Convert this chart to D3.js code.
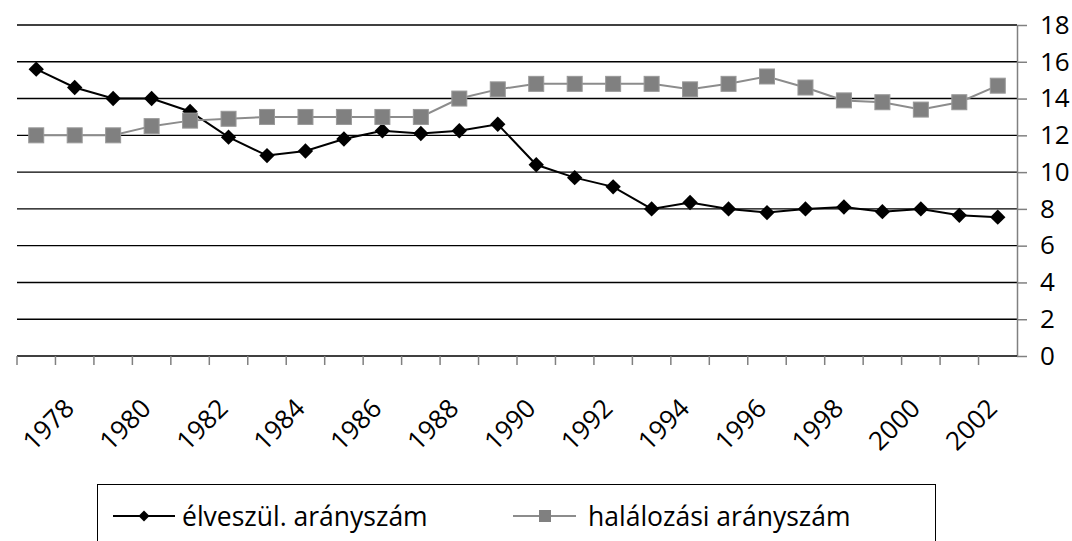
<!DOCTYPE html>
<html>
<head>
<meta charset="utf-8">
<script src="https://cdn.jsdelivr.net/npm/d3@7"></script>
<style>
  body { margin: 0; background: #fff; }
  text { font-family: "Open Sans", sans-serif; fill: #000; }
</style>
</head>
<body>
<div id="chart"></div>
<script>
// data
var years = ["1977","1978","1979","1980","1981","1982","1983","1984","1985","1986","1987","1988","1989",
             "1990","1991","1992","1993","1994","1995","1996","1997","1998","1999","2000","2001","2002"];
var elveszul = [15.6,14.6,14.0,14.0,13.3,11.9,10.9,11.15,11.8,12.25,12.1,12.25,12.6,
                10.4,9.7,9.2,8.0,8.35,8.0,7.8,8.0,8.1,7.85,8.0,7.65,7.55];
var halalozasi = [12.0,12.0,12.0,12.5,12.8,12.9,13.0,13.0,13.0,13.0,13.0,14.0,14.5,
                  14.8,14.8,14.8,14.8,14.5,14.8,15.2,14.6,13.9,13.8,13.4,13.8,14.7];
var yTicks = [0,2,4,6,8,10,12,14,16,18];
var seriesNames = ["élveszül. arányszám", "halálozási arányszám"];

var width = 1072, height = 541;
var plot = {left: 17, right: 1017, top: 25, bottom: 356};

var svg = d3.select("#chart").append("svg")
  .attr("width", width)
  .attr("height", height);

var x = d3.scaleBand()
  .domain(years)
  .range([plot.left, plot.right])
  .padding(0);

var y = d3.scaleLinear()
  .domain([0, 18])
  .range([plot.bottom, plot.top]);

// horizontal gridlines
svg.selectAll(".grid")
  .data(yTicks.filter(function(d) { return d > 0; }))
  .enter().append("line")
    .attr("x1", plot.left)
    .attr("x2", plot.right)
    .attr("y1", function(d) { return y(d); })
    .attr("y2", function(d) { return y(d); })
    .style("stroke", "#000")
    .style("stroke-width", 1.4);

// right value axis
var yAxis = svg.append("g")
  .attr("transform", "translate(" + plot.right + ",0)")
  .call(d3.axisRight(y).tickValues(yTicks).tickSize(10).tickSizeOuter(0).tickPadding(13));
yAxis.select(".domain").style("stroke", "#808080").style("stroke-width", 1.5);
yAxis.selectAll(".tick line").style("stroke", "#808080").style("stroke-width", 1.5);
yAxis.selectAll(".tick text")
  .style("font-family", "'Open Sans', sans-serif")
  .style("font-size", "26px")
  .attr("fill", "#000");

// category axis line + ticks between categories
svg.append("line")
  .attr("x1", plot.left).attr("x2", plot.right)
  .attr("y1", y(0)).attr("y2", y(0))
  .style("stroke", "#000").style("stroke-width", 1.4);

svg.selectAll(".xtick")
  .data(years)
  .enter().append("line")
    .attr("x1", function(d) { return x(d); })
    .attr("x2", function(d) { return x(d); })
    .attr("y1", y(0))
    .attr("y2", y(0) + 9)
    .style("stroke", "#808080")
    .style("stroke-width", 1.5);

// rotated year labels (every other year)
svg.selectAll(".xlabel")
  .data(years.filter(function(d, i) { return i % 2 === 1; }))
  .enter().append("text")
    .attr("text-anchor", "end")
    .attr("transform", function(d) {
      return "translate(" + (x(d) + x.bandwidth() / 2 + 1) + "," + (y(0) + 54) + ") rotate(-45)";
    })
    .style("font-size", "26px")
    .text(function(d) { return d; });

var line = d3.line()
  .x(function(d, i) { return x(years[i]) + x.bandwidth() / 2; })
  .y(function(d) { return y(d); });

// black series with diamonds
svg.append("path")
  .datum(elveszul)
  .attr("d", line)
  .style("fill", "none")
  .style("stroke", "#000")
  .style("stroke-width", 2);

var diamond = d3.symbol().type(d3.symbolSquare).size(118);
svg.selectAll(".dia")
  .data(elveszul)
  .enter().append("path")
    .attr("d", diamond)
    .attr("transform", function(d, i) {
      return "translate(" + (x(years[i]) + x.bandwidth() / 2) + "," + y(d) + ") rotate(45)";
    })
    .style("fill", "#000");

// gray series with squares
svg.append("path")
  .datum(halalozasi)
  .attr("d", line)
  .style("fill", "none")
  .style("stroke", "#8c8c8c")
  .style("stroke-width", 2);

svg.selectAll(".sq")
  .data(halalozasi)
  .enter().append("rect")
    .attr("x", function(d, i) { return x(years[i]) + x.bandwidth() / 2 - 7.5; })
    .attr("y", function(d) { return y(d) - 7.5; })
    .attr("width", 15)
    .attr("height", 15)
    .style("fill", "#808080")
    .style("stroke", "#999")
    .style("stroke-width", 1);

// legend
var legend = svg.append("g");
legend.append("rect")
  .attr("x", 97.5).attr("y", 484.5)
  .attr("width", 838).attr("height", 70)
  .style("fill", "none")
  .style("stroke", "#000")
  .style("stroke-width", 1);

var ly = 516;
legend.append("line")
  .attr("x1", 113).attr("x2", 175).attr("y1", ly).attr("y2", ly)
  .style("stroke", "#000").style("stroke-width", 2);
legend.append("path")
  .attr("d", d3.symbol().type(d3.symbolSquare).size(60))
  .attr("transform", "translate(144," + ly + ") rotate(45)")
  .style("fill", "#000");
legend.append("text")
  .attr("x", 182).attr("y", ly + 10)
  .style("font-size", "26.5px")
  .text(seriesNames[0]);

legend.append("line")
  .attr("x1", 513).attr("x2", 576).attr("y1", ly).attr("y2", ly)
  .style("stroke", "#8c8c8c").style("stroke-width", 2);
legend.append("rect")
  .attr("x", 539).attr("y", ly - 6)
  .attr("width", 12).attr("height", 12)
  .style("fill", "#808080");
legend.append("text")
  .attr("x", 588).attr("y", ly + 10)
  .style("font-size", "26.5px")
  .text(seriesNames[1]);
</script>
</body>
</html>
